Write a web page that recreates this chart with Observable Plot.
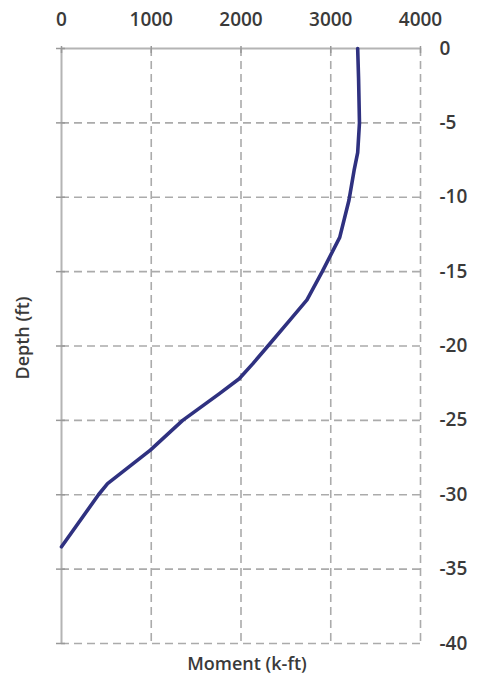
<!DOCTYPE html>
<html>
<head>
<meta charset="utf-8">
<script src="https://cdn.jsdelivr.net/npm/d3@7"></script>
<script src="https://cdn.jsdelivr.net/npm/@observablehq/plot@0.6"></script>
<style>
  html, body { margin: 0; padding: 0; background: #fff; }
  #chart { width: 482px; height: 684px; }
</style>
</head>
<body>
<div id="chart"></div>
<script>
// Data
const depth  = [0, -2, -5, -7, -8.2, -10.2, -12.7, -15, -16.9, -18.3, -20, -21.2, -22.2, -23.2, -25, -27, -29.25, -30, -33.5];
const moment = [3300, 3310, 3320, 3300, 3260, 3203, 3100, 2905, 2735, 2540, 2300, 2130, 1980, 1760, 1350, 990, 513, 412, 0];
const xTicks = [0, 1000, 2000, 3000, 4000];
const yTicks = [0, -5, -10, -15, -20, -25, -30, -35, -40];
const xLabel = "Moment (k-ft)";
const yLabel = "Depth (ft)";

const data = depth.map((d, i) => ({depth: d, moment: moment[i]}));
const gridColor = "#ababab";
const axisColor = "#b4b4b4";
const textColor = "#3a3a3a";
const font = "'Open Sans', Lato, sans-serif";

const chart = Plot.plot({
  width: 482,
  height: 684,
  marginLeft: 61,
  marginRight: 62,
  marginTop: 48,
  marginBottom: 41,
  style: {fontFamily: font, fontSize: "19px", color: textColor, background: "#fff"},
  x: {domain: [0, 4000]},
  y: {domain: [-40, 0]},
  marks: [
    // dashed grid
    Plot.ruleX(xTicks.filter(d => d !== 0), {stroke: gridColor, strokeWidth: 1.6, strokeDasharray: "8,5"}),
    Plot.ruleY(yTicks.filter(d => d !== 0), {stroke: gridColor, strokeWidth: 1.6, strokeDasharray: "8,5"}),
    // solid axis lines
    Plot.ruleX([0], {stroke: axisColor, strokeWidth: 2}),
    Plot.ruleY([0], {stroke: axisColor, strokeWidth: 2}),
    // small tick marks on the axis lines
    Plot.ruleY(yTicks, {y: d => d, x1: 0, x2: 0, insetLeft: -5, insetRight: -4, stroke: "#999", strokeWidth: 1.5}),
    Plot.ruleX(xTicks, {x: d => d, y1: 0, y2: 0, insetTop: -2, insetBottom: -5, stroke: "#999", strokeWidth: 1.5}),
    // axes labels
    Plot.axisX(xTicks, {anchor: "top", tickSize: 0, tickPadding: 23, label: null, fontSize: 19, fontWeight: 600, fill: textColor, tickFormat: d => String(d)}),
    Plot.axisY(yTicks, {anchor: "right", tickSize: 0, tickPadding: 19, label: null, fontSize: 19, fontWeight: 600, fill: textColor, tickFormat: d => String(d)}),
    // data line
    Plot.line(data, {x: "moment", y: "depth", stroke: "#2f3180", strokeWidth: 3.6, strokeLinejoin: "round", curve: "linear"}),
    // titles
    Plot.text([xLabel], {frameAnchor: "bottom", dx: 6, dy: 26, fontSize: 18, fontWeight: 600, fill: textColor}),
    Plot.text([yLabel], {frameAnchor: "left", textAnchor: "middle", dx: -38, dy: -8, rotate: -90, fontSize: 18, fontWeight: 600, fill: textColor})
  ]
});
document.getElementById("chart").appendChild(chart);
</script>
</body>
</html>
